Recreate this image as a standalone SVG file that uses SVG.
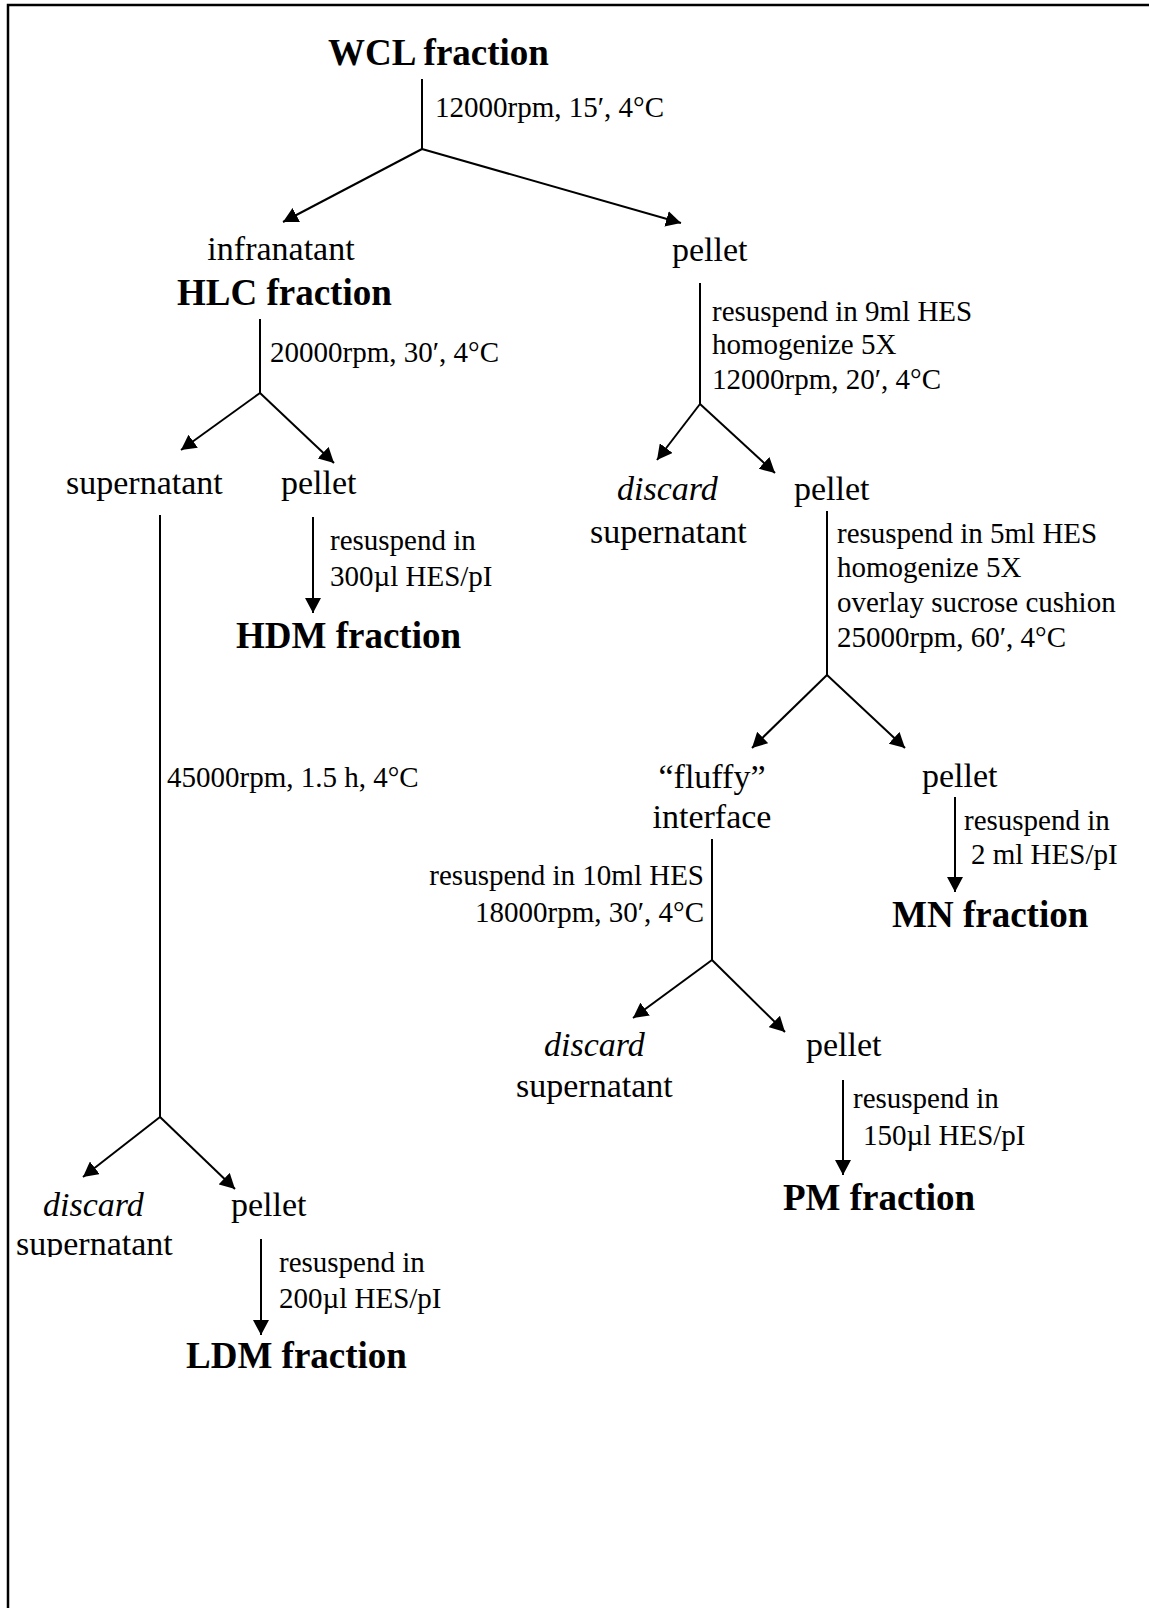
<svg xmlns="http://www.w3.org/2000/svg" width="1149" height="1608" viewBox="0 0 1149 1608">
<style>
text{font-family:"Liberation Serif","Times New Roman",serif;fill:#000}
.t{font-weight:bold;font-size:37px}
.n{font-size:34px}
.i{font-size:34px;font-style:italic}
.e{font-size:29px}
.c{text-anchor:middle}
.r{text-anchor:end}
line{stroke:#000;stroke-width:2}
.a{marker-end:url(#ah)}
</style>
<defs>
<marker id="ah" markerUnits="userSpaceOnUse" markerWidth="16" markerHeight="16" refX="15" refY="8" orient="auto">
<path d="M0,0 L15,8 L0,16 z" fill="#000"/>
</marker>
<clipPath id="clipSup"><rect x="0" y="1200" width="300" height="57"/></clipPath>
</defs>
<rect x="0" y="0" width="1149" height="1608" fill="#fff"/>
<path d="M8,1608 V5 H1149" fill="none" stroke="#000" stroke-width="2.5"/>

<g id="connectors">
<line x1="422" y1="79" x2="422" y2="149"/>
<line class="a" x1="422" y1="149" x2="283" y2="222"/>
<line class="a" x1="422" y1="149" x2="681" y2="223"/>
<line x1="260" y1="319" x2="260" y2="393"/>
<line class="a" x1="260" y1="393" x2="181" y2="450"/>
<line class="a" x1="260" y1="393" x2="334" y2="463"/>
<line x1="160" y1="515" x2="160" y2="1117"/>
<line class="a" x1="160" y1="1117" x2="83" y2="1177"/>
<line class="a" x1="160" y1="1117" x2="235" y2="1189"/>
<line class="a" x1="313" y1="517" x2="313" y2="613"/>
<line x1="700" y1="283" x2="700" y2="404"/>
<line class="a" x1="700" y1="404" x2="657" y2="460"/>
<line class="a" x1="700" y1="404" x2="775" y2="473"/>
<line x1="827" y1="511" x2="827" y2="675"/>
<line class="a" x1="827" y1="675" x2="752" y2="748"/>
<line class="a" x1="827" y1="675" x2="905" y2="748"/>
<line class="a" x1="955" y1="797" x2="955" y2="892"/>
<line x1="712" y1="839" x2="712" y2="960"/>
<line class="a" x1="712" y1="960" x2="633" y2="1018"/>
<line class="a" x1="712" y1="960" x2="785" y2="1032"/>
<line class="a" x1="843" y1="1080" x2="843" y2="1175"/>
<line class="a" x1="261" y1="1239" x2="261" y2="1335"/>
<text class="e" x="435" y="117">12000rpm, 15′, 4°C</text>
<text class="e" x="270" y="362">20000rpm, 30′, 4°C</text>
<text class="e" x="167" y="787">45000rpm, 1.5 h, 4°C</text>
<text class="e" x="330" y="550">resuspend in</text>
<text class="e" x="330" y="586">300µl HES/pI</text>
<text class="e" x="712" y="321">resuspend in 9ml HES</text>
<text class="e" x="712" y="354">homogenize 5X</text>
<text class="e" x="712" y="389">12000rpm, 20′, 4°C</text>
<text class="e" x="837" y="543">resuspend in 5ml HES</text>
<text class="e" x="837" y="577">homogenize 5X</text>
<text class="e" x="837" y="612">overlay sucrose cushion</text>
<text class="e" x="837" y="647">25000rpm, 60′, 4°C</text>
<text class="e" x="964" y="830">resuspend in</text>
<text class="e" x="971" y="864">2 ml HES/pI</text>
<text class="e r" x="704" y="885">resuspend in 10ml HES</text>
<text class="e r" x="704" y="922">18000rpm, 30′, 4°C</text>
<text class="e" x="853" y="1108">resuspend in</text>
<text class="e" x="863" y="1145">150µl HES/pI</text>
<text class="e" x="279" y="1272">resuspend in</text>
<text class="e" x="279" y="1308">200µl HES/pI</text>
</g>

<g id="wcl"><text class="t" x="328" y="65">WCL fraction</text></g>
<g id="hlc"><text class="n c" x="281" y="260">infranatant</text><text class="t" x="177" y="305">HLC fraction</text></g>
<g id="pellet1"><text class="n" x="672" y="261">pellet</text></g>
<g id="supernatant1"><text class="n" x="66" y="494">supernatant</text></g>
<g id="pellet2"><text class="n" x="281" y="494">pellet</text></g>
<g id="hdm"><text class="t" x="236" y="648">HDM fraction</text></g>
<g id="discard1"><text class="i" x="617" y="500">discard</text><text class="n" x="590" y="543">supernatant</text></g>
<g id="pellet3"><text class="n" x="794" y="500">pellet</text></g>
<g id="interface"><text class="n c" x="712" y="788">“fluffy”</text><text class="n c" x="712" y="828">interface</text></g>
<g id="pellet4"><text class="n" x="922" y="787">pellet</text></g>
<g id="mn"><text class="t" x="892" y="927">MN fraction</text></g>
<g id="discard2"><text class="i" x="544" y="1056">discard</text><text class="n" x="516" y="1097">supernatant</text></g>
<g id="pellet5"><text class="n" x="806" y="1056">pellet</text></g>
<g id="pm"><text class="t" x="783" y="1210">PM fraction</text></g>
<g id="discard3"><text class="i" x="43" y="1216">discard</text><text class="n" x="16" y="1255" clip-path="url(#clipSup)">supernatant</text></g>
<g id="pellet6"><text class="n" x="231" y="1216">pellet</text></g>
<g id="ldm"><text class="t" x="186" y="1368">LDM fraction</text></g>
</svg>
